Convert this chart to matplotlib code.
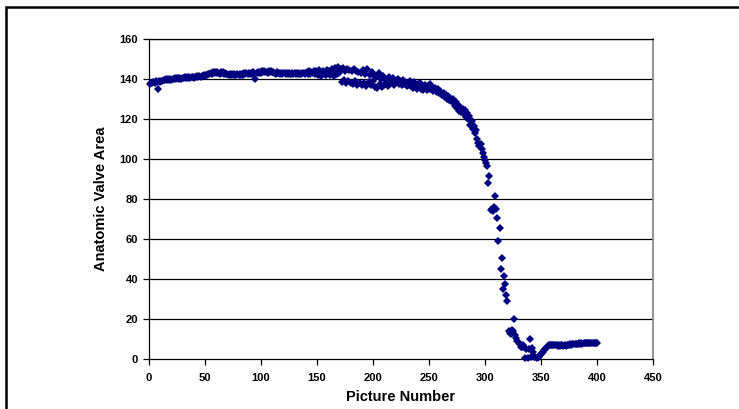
import numpy as np
import matplotlib
matplotlib.use("Agg")
import matplotlib.pyplot as plt
from matplotlib.patches import Rectangle

picture_number = list(range(1, 401))

valve_area = [
    137.5, 138.0, 137.8, 138.4, 138.2, 138.9, 138.5, 135.2, 139.0, 138.7,
    139.2, 139.0, 139.5, 139.3, 139.8, 139.4, 140.0, 139.6, 140.1, 139.7,
    140.2, 139.9, 140.4, 140.0, 140.3, 140.6, 140.1, 140.5, 140.2, 140.7,
    140.4, 140.8, 140.3, 140.9, 140.6, 141.0, 140.5, 140.9, 141.2, 140.7,
    141.1, 140.8, 141.3, 141.0, 141.5, 141.2, 141.7, 141.4, 141.9, 141.6,
    142.2, 142.0, 142.6, 142.3, 143.0, 142.7, 143.3, 142.8, 143.5, 142.9,
    143.6, 143.0, 142.6, 143.4, 142.8, 143.5, 142.4, 143.2, 142.7, 142.3,
    142.0, 142.6, 141.9, 142.4, 142.1, 142.7, 142.2, 141.8, 142.5, 142.0,
    142.4, 141.9, 142.6, 142.2, 142.8, 142.3, 142.9, 142.5, 143.1, 142.6,
    143.0, 142.7, 143.3, 142.8, 140.2, 143.2, 143.6, 143.0, 143.5, 143.1,
    143.8, 143.3, 143.9, 143.4, 143.7, 143.2, 143.8, 143.5, 144.0, 143.4,
    143.6, 143.1, 142.7, 143.3, 142.8, 143.0, 142.5, 142.9, 142.6, 143.1,
    142.8, 142.4, 143.0, 142.6, 142.9, 142.3, 142.7, 143.1, 142.5, 142.8,
    142.4, 142.9, 142.6, 143.2, 142.7, 142.3, 142.8, 143.0, 142.5, 142.9,
    143.3, 142.7, 144.0, 142.4, 143.6, 142.9, 144.2, 142.6, 143.8, 143.1,
    142.2, 144.5, 143.0, 141.5, 144.1, 142.6, 143.4, 141.9, 144.6, 142.8,
    143.9, 142.0, 144.8, 143.2, 141.7, 145.3, 143.6, 142.4, 145.8, 143.0,
    144.9, 138.5, 145.5, 139.5, 144.2, 137.8, 145.0, 139.0, 144.6, 138.2,
    143.8, 137.5, 145.2, 138.8, 144.0, 136.9, 143.5, 138.0, 142.8, 137.2,
    144.6, 137.8, 142.5, 136.5, 145.0, 138.4, 141.8, 137.0, 143.6, 139.2,
    142.0, 136.2, 140.8, 135.5, 143.0, 137.4, 139.8, 135.8, 141.5, 136.8,
    140.2, 138.0, 136.3, 141.0, 137.5, 139.6, 138.6, 140.5, 137.2, 139.0,
    138.4, 140.0, 137.6, 139.2, 138.0, 136.8, 139.5, 137.3, 138.6, 136.5,
    138.2, 137.0, 139.0, 136.4, 137.8, 135.6, 138.4, 136.9, 135.2, 137.6,
    136.2, 137.9, 135.0, 136.8, 134.6, 137.2, 135.8, 134.4, 136.5, 135.2,
    137.5, 134.8, 136.0, 133.9, 135.6, 134.2, 133.4, 135.0, 133.0, 134.0,
    132.6, 131.8, 133.2, 130.9, 132.0, 130.2, 131.4, 129.6, 130.6, 128.8,
    129.8, 128.0, 126.5, 128.6, 125.4, 127.0, 124.2, 126.0, 123.5, 125.2,
    122.4, 124.6, 121.0, 123.0, 120.0, 121.6, 117.0, 118.8, 115.2, 116.6,
    113.0, 114.4, 110.0, 108.2, 106.5, 107.6, 104.8, 103.0, 101.2, 99.6,
    98.0, 96.4, 88.2, 91.6, 74.5, 75.2, 73.8, 76.0, 81.5, 74.8,
    70.5, 58.8, 65.5, 45.2, 50.5, 34.8, 41.6, 37.5, 32.0, 29.0,
    14.2, 13.0, 12.5, 14.6, 13.8, 20.2, 12.0, 10.5, 9.2, 8.0,
    7.5, 6.2, 5.8, 7.0, 6.0, 0.5, 5.2, 0.6, 4.8, 10.0,
    0.8, 5.5, 3.6, 0.9, 1.0, 0.7, 1.2, 1.0, 1.8, 2.4,
    2.8, 3.6, 4.5, 5.2, 5.9, 6.4, 6.8, 7.0, 7.2, 7.0,
    6.9, 7.1, 6.8, 7.0, 6.7, 6.9, 6.6, 6.8, 7.0, 6.6,
    6.8, 6.5, 6.9, 7.2, 7.0, 7.3, 7.1, 7.4, 7.6, 7.3,
    7.5, 7.7, 7.4, 7.8, 7.6, 7.9, 7.7, 8.0, 7.8, 8.0,
    7.9, 8.1, 7.8, 8.0, 8.2, 7.9, 8.1, 8.2, 8.0, 8.1,
]

x_ticks = [0, 50, 100, 150, 200, 250, 300, 350, 400, 450]
y_ticks = [0, 20, 40, 60, 80, 100, 120, 140, 160]
x_label = "Picture Number"
y_label = "Anatomic Valve Area"

W, H = 739, 409
fig = plt.figure(figsize=(W / 100, H / 100), dpi=100)
fig.patch.set_facecolor("white")

# outer frame (cut at right/bottom edges)
fig.add_artist(Rectangle((6 / W, -0.05), 1.1, (H - 7.5) / H + 0.05,
                         transform=fig.transFigure, fill=False,
                         edgecolor="black", linewidth=1.8))

ax = fig.add_axes([149 / W, (H - 359) / H, 504 / W, 320 / H])
ax.set_xlim(0, 450)
ax.set_ylim(0, 160)
ax.set_xticks(x_ticks)
ax.set_yticks(y_ticks)

for yv in y_ticks[1:]:
    ax.axhline(yv, color="black", linewidth=0.9, zorder=1)

ax.plot(picture_number, valve_area, linestyle="none", marker="D",
        markersize=3.9, color="#000080", markeredgewidth=0, zorder=3,
        clip_on=False)

font = "Liberation Sans"
for s in ["left", "bottom", "top"]:
    ax.spines[s].set_color("black")
    ax.spines[s].set_linewidth(0.9)
ax.spines["right"].set_color("#808080")
ax.spines["right"].set_linewidth(1.2)

ax.tick_params(axis="both", direction="out", length=4, width=0.9,
               colors="black", labelsize=8, pad=4)
ax.tick_params(axis="x", pad=6)
for lab in ax.get_xticklabels() + ax.get_yticklabels():
    lab.set_fontfamily(font)
    lab.set_fontweight("bold")

ax.set_xlabel(x_label, fontfamily=font, fontweight="bold", fontsize=10.5,
              labelpad=5)
ax.set_ylabel(y_label, fontfamily=font, fontweight="bold", fontsize=10.5,
              labelpad=8)

fig.savefig("out.png", dpi=100, facecolor="white")
